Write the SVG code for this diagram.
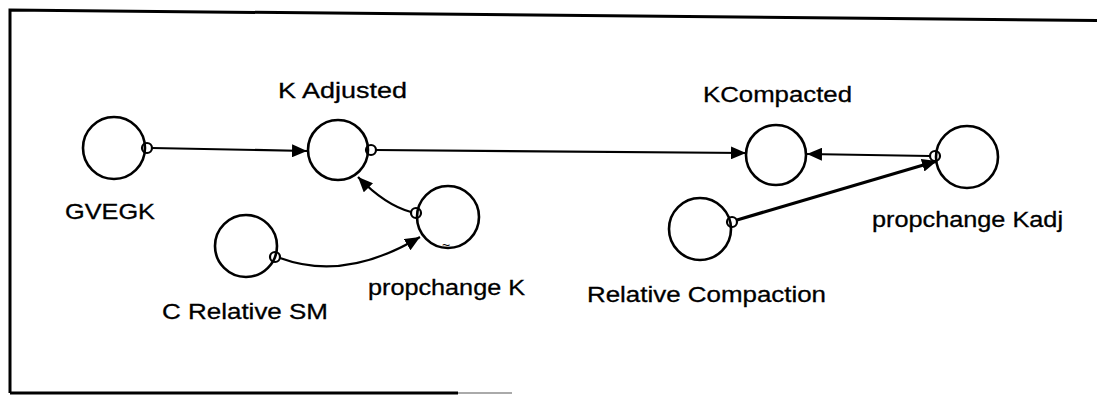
<svg xmlns="http://www.w3.org/2000/svg" width="1097" height="396" viewBox="0 0 1097 396">
<style>
.node{fill:none;stroke:#000;stroke-width:2.6}
.src{fill:none;stroke:#000;stroke-width:2.2}
.lbl{font-family:"Liberation Sans",Arial,sans-serif;font-size:22px;fill:#000;stroke:#000;stroke-width:0.3}
.edge{fill:none;stroke:#000;stroke-width:2.2}
.edge2{fill:none;stroke:#000;stroke-width:3.2}
</style>
<defs>
<marker id="ah" markerUnits="userSpaceOnUse" markerWidth="17" markerHeight="13" refX="15" refY="6.5" orient="auto">
<path d="M0,0 L15,6.5 L0,13 Z" fill="#000"/>
</marker>
</defs>
<rect width="1097" height="396" fill="#fff"/>
<g id="frame" fill="none" stroke="#000" stroke-width="3">
<path d="M10,393 L10,10 L1097,20.5"/>
<line x1="10" y1="393" x2="458" y2="393"/>
<line x1="458" y1="393" x2="512" y2="393" stroke="#aaa" stroke-width="2"/>
</g>
<g id="connectors">
<line class="edge" x1="152" y1="148" x2="307" y2="151" marker-end="url(#ah)"/>
<line class="edge" x1="376" y1="150" x2="746" y2="153" marker-end="url(#ah)"/>
<line class="edge" x1="930" y1="156" x2="807" y2="154" marker-end="url(#ah)"/>
<line class="edge2" x1="737" y1="220" x2="937" y2="161" marker-end="url(#ah)"/>
<path class="edge" d="M411,212 Q385,205 358,177" marker-end="url(#ah)"/>
<path class="edge" d="M280,258 Q345,282 420,237" marker-end="url(#ah)"/>
</g>
<g id="GVEGK">
<circle class="node" cx="114" cy="148" r="31"/>
<circle class="src" cx="147" cy="148" r="5"/>
<text class="lbl" x="65" y="219" textLength="90" lengthAdjust="spacingAndGlyphs">GVEGK</text>
</g>
<g id="K_Adjusted">
<circle class="node" cx="338" cy="150" r="30"/>
<circle class="src" cx="371" cy="150" r="5"/>
<text class="lbl" x="278" y="98" textLength="129" lengthAdjust="spacingAndGlyphs">K Adjusted</text>
</g>
<g id="C_Relative_SM">
<circle class="node" cx="246" cy="246" r="31"/>
<circle class="src" cx="275" cy="257" r="5"/>
<text class="lbl" x="162" y="319" textLength="166" lengthAdjust="spacingAndGlyphs">C Relative SM</text>
</g>
<g id="propchange_K">
<circle class="node" cx="448" cy="217" r="31"/>
<circle class="src" cx="416" cy="213" r="5"/>
<text x="446" y="250" text-anchor="middle" style="font-family:'Liberation Sans',Arial,sans-serif;font-size:14px">~</text>
<text class="lbl" x="368" y="295" textLength="157" lengthAdjust="spacingAndGlyphs">propchange K</text>
</g>
<g id="K_Compacted">
<circle class="node" cx="776" cy="155" r="30"/>
<text class="lbl" x="703" y="102" textLength="149" lengthAdjust="spacingAndGlyphs">KCompacted</text>
</g>
<g id="propchange_Kadj">
<circle class="node" cx="967" cy="157" r="31"/>
<circle class="src" cx="935" cy="156" r="5"/>
<text class="lbl" x="872" y="227" textLength="191" lengthAdjust="spacingAndGlyphs">propchange Kadj</text>
</g>
<g id="Relative_Compaction">
<circle class="node" cx="700" cy="229" r="31"/>
<circle class="src" cx="732" cy="222" r="5"/>
<text class="lbl" x="587" y="302" textLength="239" lengthAdjust="spacingAndGlyphs">Relative Compaction</text>
</g>
</svg>
